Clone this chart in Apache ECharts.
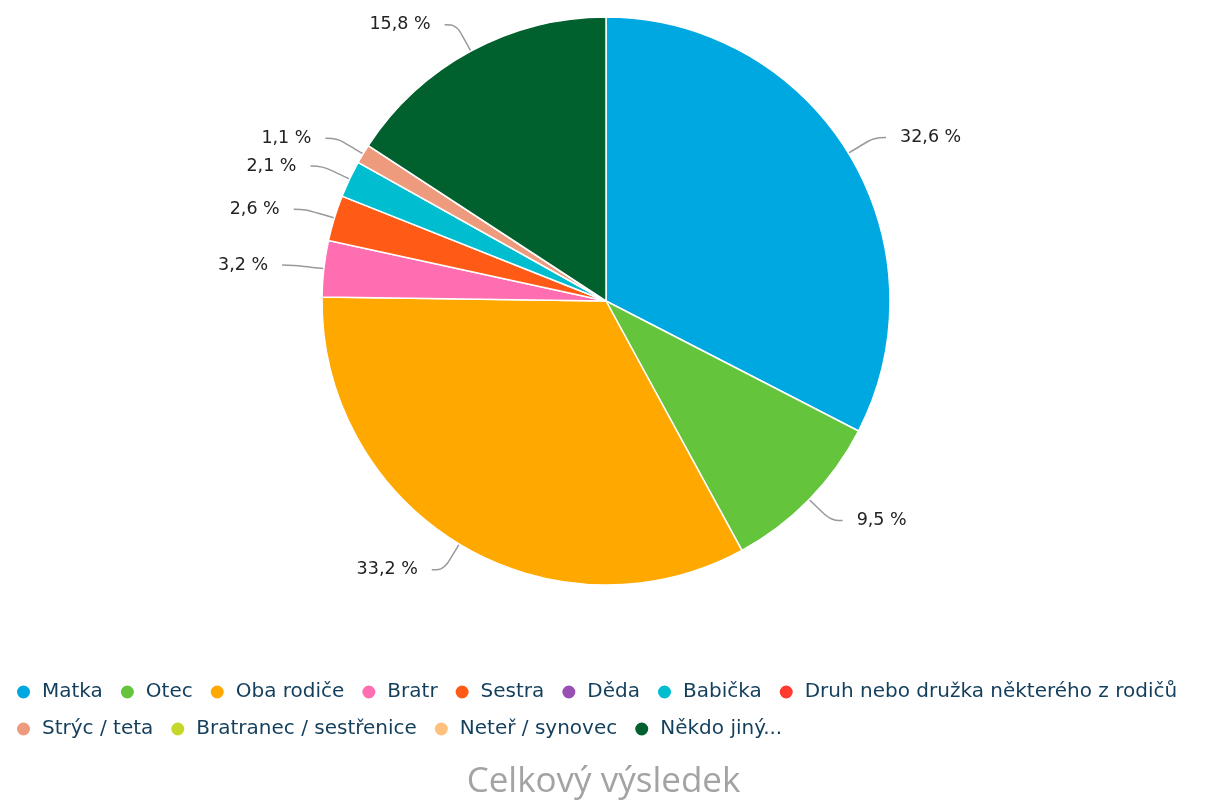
<!DOCTYPE html>
<html>
<head>
<meta charset="utf-8">
<script src="https://cdn.jsdelivr.net/npm/echarts@6/dist/echarts.min.js"></script>
<style>
  html, body { margin: 0; padding: 0; background: #fff; }
  #chart { width: 1207px; height: 801px; }
</style>
</head>
<body>
<div id="chart"></div>
<script>
    // data
    var categories = ['Matka', 'Otec', 'Oba rodiče', 'Bratr', 'Sestra', 'Děda', 'Babička',
        'Druh nebo družka některého z rodičů', 'Strýc / teta', 'Bratranec / sestřenice',
        'Neteř / synovec', 'Někdo jiný...'];
    var values = [32.6, 9.5, 33.2, 3.2, 2.6, 0, 2.1, 0, 1.1, 0, 0, 15.8];
    var colors = ['#00a8e1', '#64c43c', '#ffa900', '#ff6eb0', '#ff5b17', '#9a4fb3', '#00bdd0',
        '#ff3a2e', '#ee9a7c', '#c5d82a', '#ffc07d', '#00602e'];
    var legendRow1 = categories.slice(0, 8);
    var legendRow2 = categories.slice(8);

    var chart = echarts.init(document.getElementById('chart'));

    var seriesData = categories.map(function (name, i) {
        var item = { name: name, value: values[i], itemStyle: { color: colors[i] } };
        if (values[i] === 0) {
            item.label = { show: false };
            item.labelLine = { show: false };
        }
        return item;
    });

    var legendBase = {
        orient: 'horizontal',
        icon: 'circle',
        width: 1200,
        itemWidth: 15,
        itemHeight: 15,
        itemGap: 16,
        textStyle: { fontFamily: 'DejaVu Sans', fontSize: 20, color: '#143f5c', padding: [0, 0, 0, 6] }
    };

    chart.setOption({
        animation: false,
        title: {
            text: 'Celkový výsledek',
            left: 'center',
            top: 760,
            textStyle: { fontFamily: 'Open Sans', fontSize: 35, fontWeight: 'normal', color: '#a3a3a3' }
        },
        legend: [
            Object.assign({}, legendBase, { data: legendRow1, left: 10, top: 677 }),
            Object.assign({}, legendBase, { data: legendRow2, left: 10, top: 714 })
        ],
        series: [{
            type: 'pie',
            center: [606, 301],
            radius: 284,
            startAngle: 90,
            clockwise: true,
            itemStyle: { borderColor: '#fff', borderWidth: 1.5 },
            label: {
                show: true,
                position: 'outside',
                fontFamily: 'DejaVu Sans',
                fontSize: 17.5,
                color: '#222',
                padding: [12, 0, 12, 0],
                distanceToLabelLine: 14,
                formatter: function (p) {
                    return p.value.toFixed(1).replace('.', ',') + ' %';
                }
            },
            labelLine: {
                show: true,
                length: 30,
                length2: 12,
                smooth: 0.4,
                lineStyle: { color: '#999', width: 1.5 }
            },
            data: seriesData
        }]
    });
</script>
</body>
</html>
